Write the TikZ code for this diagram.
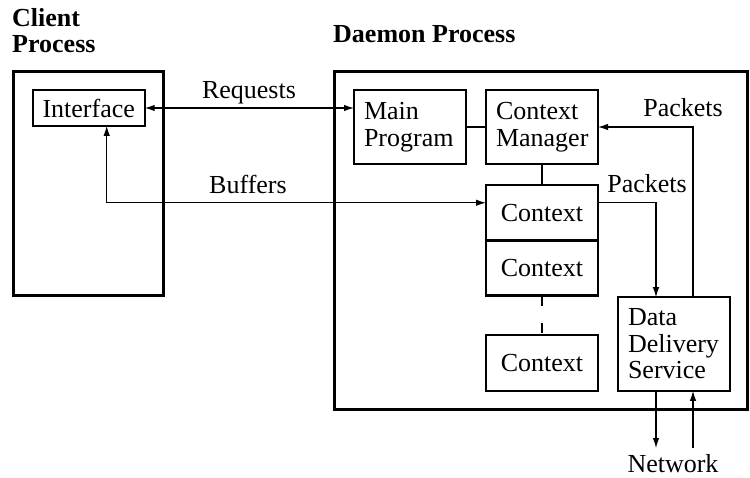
\documentclass[tikz,border=0pt]{standalone}
\usepackage{fontspec}
\setmainfont{Liberation Serif}
\usetikzlibrary{arrows.meta}
\begin{document}
\begin{tikzpicture}[x=1pt,y=-1pt,
  every node/.style={font=\fontsize{26}{26.5}\selectfont},
  frame/.style={draw, line width=2.8pt, inner sep=0pt, outer sep=0pt},
  box/.style={draw, line width=2.4pt, minimum width=112pt, inner sep=0pt, outer sep=0pt},
  txtbox/.style={box, text width=92pt, align=left, inner xsep=10pt},
  label/.style={inner sep=0pt, anchor=base},
  heading/.style={inner sep=0pt, font=\fontsize{26}{26}\selectfont\bfseries},
  link/.style={line width=1.2pt},
  tip/.tip={Latex[length=10pt,width=6.5pt]},
  arr/.style={link, -tip},
  biarr/.style={link, tip-tip},
]
\useasboundingbox (0,0) rectangle (750,477);

% process frames
\node[frame, minimum width=150.4pt, minimum height=224.4pt] (client) at (88.5,183.5) {};
\node[frame, minimum width=413pt, minimum height=338pt] (daemon) at (541,240.7) {};
\node[heading, anchor=base west, align=left] (clientlbl) at (12,52) {Client\\Process};
\node[heading, anchor=base west] (daemonlbl) at (333,42.7) {Daemon Process};

% client side
\node[box, minimum height=35.6pt] (iface) at (88.7,108) {Interface};

% daemon side
\node[txtbox, minimum height=74pt] (main) at (410,127) {Main\\Program};
\node[txtbox, minimum height=74pt] (cm) at (542,127) {Context\\Manager};
\node[box, minimum height=55.5pt] (c1) at (542,212.75) {Context};
\node[box, minimum height=55pt, anchor=north] (c2) at (c1.south) {Context};
\node[box, minimum height=55.6pt] (c3) at (542,363) {Context};
\node[txtbox, minimum height=93.6pt] (dds) at (674,344) {Data\\Delivery\\Service};

% connectors
\draw[biarr] (iface.east) -- (main.west |- iface.east);
\node[label] (reqlbl) at (249,98) {Requests};

\draw[biarr] ([xshift=18pt]iface.south) |- ([yshift=10pt]c1.west);
\node[label] (buflbl) at (248,193) {Buffers};

\draw[link] (main.east) -- (cm.west);
\draw[link] (cm.south) -- (c1.north);
\draw[line width=2.4pt, dash pattern=on 10pt off 17pt on 10pt] (c2.south) -- (c3.north);

\draw[arr] ([yshift=10pt]c1.east) -| ([xshift=-18pt]dds.north);
\node[label] (pktlbl1) at (647,192.7) {Packets};

\draw[arr] ([xshift=19pt]dds.north) |- (cm.east);
\node[label] (pktlbl2) at (683,116.7) {Packets};

\coordinate (netout) at (656,448);
\coordinate (netin) at (693,448);
\draw[arr] ([xshift=-18pt]dds.south) -- (netout);
\draw[arr] (netin) -- ([xshift=19pt]dds.south);
\node[label] (netlbl) at (673,472) {Network};
\end{tikzpicture}
\end{document}
